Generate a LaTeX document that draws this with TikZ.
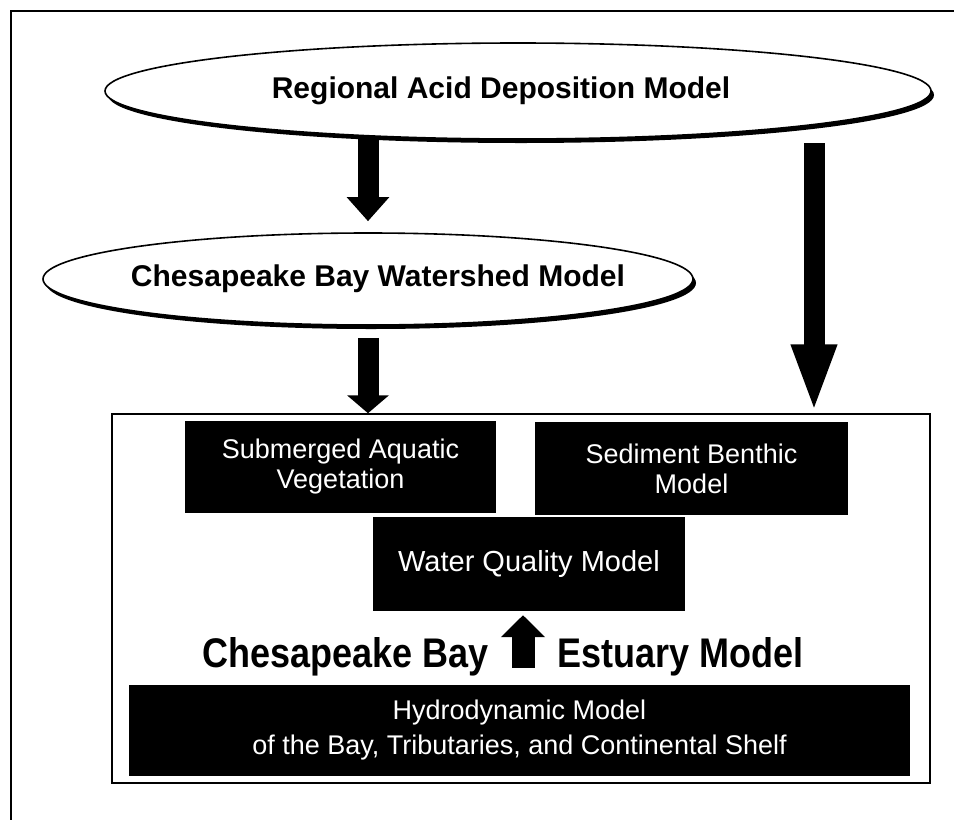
\documentclass[tikz,border=0pt]{standalone}
\usepackage{fontspec}
\setmainfont{Liberation Sans}
\usetikzlibrary{positioning, calc, shapes.geometric, arrows.meta, shadows}

\begin{document}
\begin{tikzpicture}[x=1pt, y=-1pt]

  \tikzstyle{model}=[ellipse, draw, line width=1.6pt, fill=white, inner sep=0pt,
    drop shadow={shadow xshift=3pt, shadow yshift=-4pt, fill=black, opacity=1},
    font=\fontsize{30}{36}\selectfont\bfseries]
  \tikzstyle{module}=[rectangle, fill=black, text=white, align=center, inner sep=0pt,
    font=\fontsize{27}{30}\selectfont]
  \tikzstyle{title}=[inner sep=0pt, font=\fontsize{36}{40}\selectfont\bfseries]
  \tikzstyle{flow}=[line width=21pt]

  \useasboundingbox (0,0) rectangle (954,820);
  \draw [line width=1.2pt] (960,11) -- (11,11) -- (11,830);

  % the text boxes get no width, so the ellipses keep the size given here
  \node [model, minimum width=826pt, minimum height=96pt] (rad) at (518,91) {\makebox[0pt]{\hspace*{-34pt}Regional Acid Deposition Model}};
  \node [model, minimum width=650pt, minimum height=92pt] (cbwm) at (368,279) {\makebox[0pt]{\hspace*{20pt}Chesapeake Bay Watershed Model}};

  \node [draw, line width=1.5pt, inner sep=0pt, minimum width=818pt, minimum height=369pt] (estuary) at (521,598.5) {};

  \node [module, minimum width=311pt, minimum height=92pt] (sav) at (340.5,467) {Submerged Aquatic\\Vegetation};
  \node [module, minimum width=313pt, minimum height=93pt] (sed) at (691.5,468.5) {Sediment Benthic\\Model};
  \node [module, minimum width=312pt, minimum height=94pt, font=\fontsize{29}{32}\selectfont] (wq) at (529,564) {Water Quality Model};
  \node [module, minimum width=781pt, minimum height=91pt, font=\fontsize{27}{35}\selectfont] (hydro) at (519.5,730.5) {
    Hydrodynamic Model \\
    of the Bay, Tributaries, and Continental Shelf
  };

  \node [title, anchor=base east] (cb) at (489,667) {\scalebox{1}[1.15]{Chesapeake Bay}};
  \node [title, right=68pt of cb.base east, anchor=base west] (em) {\scalebox{1}[1.15]{Estuary Model}};

  \coordinate (drop) at (814,143);
  \coordinate (gap) at ($(cb.east)!.5!(em.west)$);

  \draw [flow, -{Triangle[width=41pt, length=24pt]}, shorten <=-3pt, shorten >=11pt] (rad.south -| cbwm.north) -- (cbwm.north);
  \draw [flow, -{Triangle[width=41pt, length=18pt]}, shorten <=12pt] (cbwm.south) -- (cbwm.south |- estuary.north);
  \draw [flow, -{Triangle[width=41pt, length=69pt]}] (drop) -- (drop |- estuary.north);
  \draw [line width=23pt, -{Triangle[width=43pt, length=22pt]}, shorten <=17pt, shorten >=4pt] (hydro.north -| gap) -- (wq.south -| gap);
\end{tikzpicture}
\end{document}
